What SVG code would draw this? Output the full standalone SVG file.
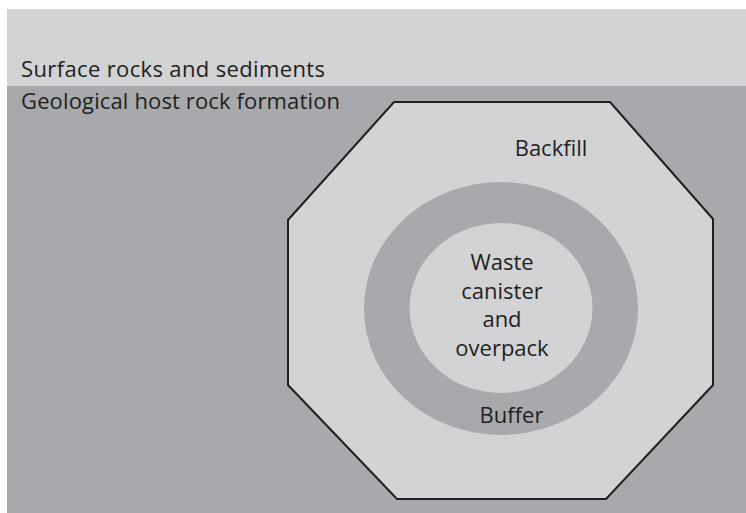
<svg xmlns="http://www.w3.org/2000/svg" width="746" height="513" viewBox="0 0 746 513">
  <style>
    .lbl { font-family: "Open Sans", "Liberation Sans", sans-serif; font-size: 22px; fill: #231f20; }
    .mid { text-anchor: middle; }
    .light { fill: #d2d3d5; }
    .dark { fill: #a8a9ac; }
  </style>
  <rect x="0" y="0" width="746" height="513" fill="#ffffff"/>

  <!-- Strata -->
  <g id="surface">
    <rect class="light" x="7" y="9" width="739" height="77"/>
    <text class="lbl" x="21" y="77" textLength="304" lengthAdjust="spacing">Surface rocks and sediments</text>
  </g>
  <g id="host-rock">
    <rect class="dark" x="7" y="86" width="739" height="427"/>
    <text class="lbl" x="21" y="109" textLength="319" lengthAdjust="spacing">Geological host rock formation</text>
  </g>

  <!-- Engineered barriers -->
  <g id="backfill">
    <polygon class="light" points="394,102 610,102 713,219 713,385 606,499 397,499 288,385 288,220" stroke="#231f20" stroke-width="2" stroke-linejoin="miter"/>
    <text class="lbl mid" x="551" y="156">Backfill</text>
  </g>
  <g id="buffer">
    <ellipse class="dark" cx="501" cy="308.5" rx="137" ry="126.5"/>
    <text class="lbl mid" x="511.5" y="423">Buffer</text>
  </g>
  <g id="canister">
    <ellipse class="light" cx="501" cy="308" rx="91.5" ry="85"/>
    <text class="lbl mid" x="502" y="270">Waste</text>
    <text class="lbl mid" x="502" y="299">canister</text>
    <text class="lbl mid" x="502" y="327">and</text>
    <text class="lbl mid" x="502" y="356">overpack</text>
  </g>

  <g id="connectors"/>
</svg>
